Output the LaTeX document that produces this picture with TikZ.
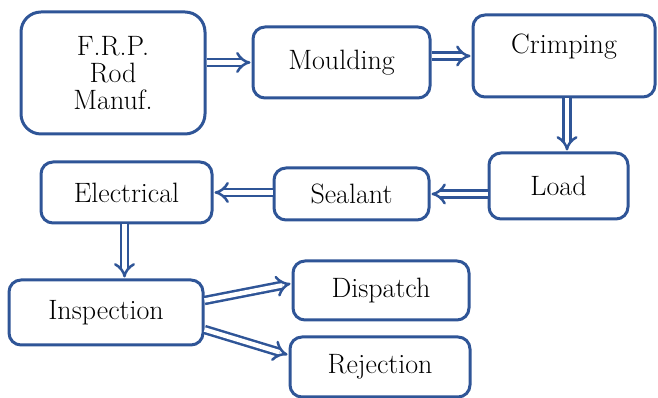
\documentclass[tikz,border=0pt]{standalone}
\usepackage{tikz}
\usetikzlibrary{arrows.meta}

\definecolor{frame}{RGB}{47,85,151}
\tikzset{
  stage/.style={draw=frame, line width=3pt, rounded corners=12pt, align=center,
    inner sep=0pt, font=\fontsize{28}{27}\selectfont},
  dbl/.style={draw=frame, line width=2.5pt, double=white, double distance=4.5pt,
    -{Implies[length=9pt, width=22pt]}, shorten >=1pt}
}

\begin{document}
\begin{tikzpicture}
  [x=1pt, y=1pt]
  \useasboundingbox (0,0) rectangle (658,398);
  \node[stage, minimum width=184pt, minimum height=122pt, rounded corners=20pt] (frp) at (113,325) {F.R.P.\\Rod\\Manuf.};
  \node[stage, minimum width=177pt, minimum height=71pt] (mould) at (341.5,335.5) {Moulding};
  \node[stage, minimum width=182pt, minimum height=82pt, text depth=24pt] (crimp) at (564,342) {Crimping};
  \node[stage, minimum width=139pt, minimum height=66pt] (load) at (558.5,212) {Load};
  \node[stage, minimum width=155pt, minimum height=52pt] (seal) at (351.5,204) {Sealant};
  \node[stage, minimum width=171pt, minimum height=61pt] (elec) at (126.5,205.5) {Electrical};
  \node[stage, minimum width=194pt, minimum height=65pt] (insp) at (106,85.5) {Inspection};
  \node[stage, minimum width=176pt, minimum height=59pt] (disp) at (381,107.5) {Dispatch};
  \node[stage, minimum width=180pt, minimum height=60pt] (rej) at (380,31) {Rejection};

  \foreach \from/\to in {frp/mould, mould/crimp}
  \draw[dbl] (\from.east |- \to.west) -- (\to.west);
  \foreach \from/\to in {load/seal, seal/elec}
  \draw[dbl] (\from.west |- \to.east) -- (\to.east);
  \draw[dbl] ([xshift=3pt]crimp.south) -- ([xshift=3pt]crimp.south |- load.north);
  \draw[dbl] ([xshift=-2pt]elec.south) -- ([xshift=-2pt]elec.south |- insp.north);
  \draw[dbl] ([yshift=12pt]insp.east) -- ([yshift=7pt]disp.west);
  \draw[dbl] ([yshift=-17pt]insp.east) -- ([yshift=12pt]rej.west);
\end{tikzpicture}
\end{document}
